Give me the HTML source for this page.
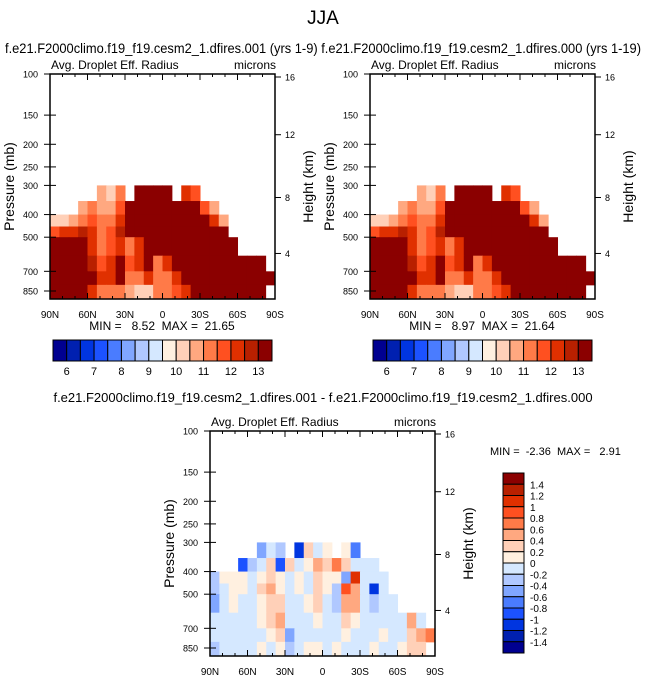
<!DOCTYPE html>
<html><head><meta charset="utf-8"><style>
body{margin:0;background:#fff;}
svg{display:block;font-family:"Liberation Sans",sans-serif;}
text{white-space:pre;}
</style></head><body>
<svg id="s" width="647" height="680" viewBox="0 0 647 680" xmlns="http://www.w3.org/2000/svg">
<text x="323" y="24" font-size="19" text-anchor="middle">JJA</text>
<text x="5" y="53" font-size="14" textLength="636" lengthAdjust="spacingAndGlyphs">f.e21.F2000climo.f19_f19.cesm2_1.dfires.001 (yrs 1-9) f.e21.F2000climo.f19_f19.cesm2_1.dfires.000 (yrs 1-19)</text>
<text x="323" y="402" font-size="13" text-anchor="middle">f.e21.F2000climo.f19_f19.cesm2_1.dfires.001 - f.e21.F2000climo.f19_f19.cesm2_1.dfires.000</text>
</svg>
<script>
const colors=["#000090","#0020b0","#0035e0","#1c52ff","#4a7cff","#80a6ff","#b0c8ff","#d5e8ff","#fff0e0","#ffd0b8","#ffa880","#ff7a48","#ff5020","#e03000","#b82000","#8b0000"];
const pEdges=[300,350,400,450,500,600,700,800,920];
const latLabels=["90N","60N","30N","0","30S","60S","90S"];
const pTicks=[100,150,200,250,300,400,500,700,850];
const hTicks=[16,12,8,4];
const hTickP=[103,182,338,587];
const absLevels=[6,6.5,7,7.5,8,8.5,9,9.5,10,10.5,11,11.5,12,12.5,13];
const absLabels=["6","7","8","9","10","11","12","13"];
const diffLabels=["1.4","1.2","1","0.8","0.6","0.4","0.2","0","-0.2","-0.4","-0.6","-0.8","-1","-1.2","-1.4"];
const N=null;
const fieldA=[
[N,N,N,N,N,10.5,10,11,N,14,14,14,14,N,12,11.5,N,N,N,N,N,N,N,N],
[N,N,N,10.5,11,10.5,10.5,11.5,14,14,14,14,14,14,14,13,11.5,10.5,N,N,N,N,N,N],
[10,10,10.5,11,11.5,11,11,12,14,14,14,14,14,14,14,14,13,12,10.5,N,N,N,N,N],
[11.5,12,12,12.5,12,11,11.5,12.5,13,14,14,14,14,14,14,14,14,14,13,N,N,N,N,N],
[14,14,14,13,12,11,11.5,12,11,12,14,14,14,14,14,14,14,14,14,14,N,N,N,N],
[14,14,14,13.5,12.5,11.5,12,13,11.5,12,13,11,12,13,14,14,14,14,14,14,14,14,14,N],
[14,14,14,14,13,12,12,13,11,11,12,11,11,12,13,14,14,14,14,14,14,14,14,14],
[14,14,14,13,12,11,11,11,10.5,10,10,11,11,11.5,12,13,14,14,14,14,14,14,14,N]];
const fieldB=[
[N,N,N,N,N,10.5,10,11,N,14,14,14,14,N,12,11.5,N,N,N,N,N,N,N,N],
[N,N,N,10.5,11,10.5,10.5,11.5,14,14,14,14,14,14,14,13,11.5,10.5,N,N,N,N,N,N],
[10,10,10.5,11,11.5,11,11,12,14,14,14,14,14,14,14,14,13,12,10.5,N,N,N,N,N],
[11.5,12,12,12.5,12,11,11.5,12.5,13,14,14,14,14,14,14,14,14,14,13,N,N,N,N,N],
[14,14,14,13,12,11,11.5,12,11,12,14,14,14,14,14,14,14,14,14,14,N,N,N,N],
[14,14,14,13.5,12.5,11.5,12,13,11.5,12,13,11,12,13,14,14,14,14,14,14,14,14,14,N],
[14,14,14,14,13,12,12,13,11,11,12,11,11,12,13,14,14,14,14,14,14,14,14,14],
[14,14,14,13,12,11,11,11,10.5,10,10,11,11,11.5,12,13,14,14,14,14,14,14,14,N]];
const fieldD=[
[N,N,N,N,N,-0.5,-0.1,-0.3,N,-1.2,0.3,-0.1,0.1,N,0.1,-0.8,N,N,N,N,N,N,N,N],
[N,N,N,-1,-0.3,-0.1,0.2,-1,0.2,-0.1,0.1,0.4,0.3,0.6,0.3,-0.1,-0.1,-0.1,N,N,N,N,N,N],
[-0.3,0.1,0.1,0.1,-0.1,0.1,0.3,0.1,-0.1,0.1,-0.1,0.2,0.1,0.1,-0.5,1.0,-0.1,-0.1,-0.1,N,N,N,N,N],
[-0.3,-0.1,0.1,0.1,-0.1,0.2,0.4,0.1,-0.2,0.1,-0.1,0.3,0.1,-0.3,0.8,0.5,-0.2,-1.1,-0.2,N,N,N,N,N],
[-0.5,-0.1,0.1,-0.1,-0.1,0.1,0.3,0.2,-0.1,-0.1,0.1,0.2,-0.1,-0.4,0.4,0.4,-0.2,-0.3,-0.1,-0.2,N,N,N,N],
[-0.2,-0.1,-0.1,-0.1,-0.1,0.1,0.2,0.4,-0.1,-0.2,-0.1,0.1,-0.1,-0.2,0.2,0.1,-0.1,-0.1,-0.1,-0.2,-0.1,0.5,-0.1,N],
[-0.2,-0.1,-0.1,-0.1,-0.1,-0.1,0.1,0.3,-0.5,-0.1,-0.1,-0.2,-0.1,-0.1,0.1,-0.1,-0.1,-0.1,0.1,-0.1,-0.1,0.3,0.5,0.6],
[-0.3,-0.2,-0.1,-0.1,-0.1,0.1,-0.1,0.1,-0.3,-0.1,0.1,0.1,-0.1,0.1,-0.1,-0.1,-0.1,0.1,-0.1,-0.1,0.1,0.3,0.2,N]];

const svg=document.getElementById('s');
const NS="http://www.w3.org/2000/svg";
function mk(tag,attrs,parent,text){const e=document.createElementNS(NS,tag);for(const k in attrs)e.setAttribute(k,attrs[k]);if(text!==undefined)e.textContent=text;(parent||svg).appendChild(e);return e;}
function absIdx(v){let i=0;while(i<absLevels.length&&v>=absLevels[i])i++;return i;}
function diffIdx(v){return Math.max(0,Math.min(15,Math.floor((v+1.4)/0.2+1e-9)+1));}

function panel(x0,y0,field,idxFn,name){
  const W=225,H=225,k=101.4;
  const X=lat=>x0+(90-lat)/180*W;
  const Y=p=>y0+k*Math.log(p/100);
  const g=mk('g',{},svg);
  
  
  const nc=field[0].length;
  field.forEach((row,r)=>row.forEach((v,c)=>{
    if(v===null)return;
    const la=90-c*180/nc, lb=90-(c+1)*180/nc;
    const rc=mk('rect',{x:X(la).toFixed(2),y:Y(pEdges[r]).toFixed(2),width:(X(lb)-X(la)+0.5).toFixed(2),height:(Y(Math.min(pEdges[r+1],920))-Y(pEdges[r])+0.5).toFixed(2),fill:colors[idxFn(v)]},g);
    
    
  }));
  const fr=mk('rect',{x:x0,y:y0,width:W,height:H,fill:'none',stroke:'#000','stroke-width':1.5},g);
  
  
  for(let lat=90;lat>=-90;lat-=10){
    const x=X(lat), major=(lat%30===0), L=major?6:3;
    mk('line',{x1:x,x2:x,y1:y0+H,y2:y0+H-L,stroke:'#000'},g);
    mk('line',{x1:x,x2:x,y1:y0,y2:y0+L,stroke:'#000'},g);
  }
  latLabels.forEach((t,i)=>{const tx=mk('text',{x:X(90-30*i),y:y0+H+19,'font-size':10,'text-anchor':'middle'},g,t);
    });
  pTicks.forEach(p=>{const y=Y(p);mk('line',{x1:x0-6,x2:x0+6,y1:y,y2:y,stroke:'#000'},g);
    const tx=mk('text',{x:x0-12,y:y+3.5,'font-size':9,'text-anchor':'end'},g,String(p));
    });
  hTicks.forEach((h,i)=>{const y=Y(hTickP[i]);mk('line',{x1:x0+W,x2:x0+W+6,y1:y,y2:y,stroke:'#000'},g);
    const tx=mk('text',{x:x0+W+10,y:y+3.5,'font-size':9},g,String(h));
    });
  const t1=mk('text',{x:x0+1,y:y0-5,'font-size':12},g,'Avg. Droplet Eff. Radius');
  
  const t2=mk('text',{x:x0+W+1,y:y0-5,'font-size':12,'text-anchor':'end'},g,'microns');
  
  const cy=y0+H/2;
  const t3=mk('text',{x:x0-36,y:cy,'font-size':14,'text-anchor':'middle',transform:`rotate(-90 ${x0-36} ${cy})`},g,'Pressure (mb)');
  
  const t4=mk('text',{x:x0+W+38,y:cy,'font-size':14,'text-anchor':'middle',transform:`rotate(-90 ${x0+W+38} ${cy})`},g,'Height (km)');
  
}
function hbar(x0,y0,name){
  const w=219/16;
  const g=mk('g',{},svg);
  
  
  colors.forEach((c,i)=>mk('rect',{x:x0+i*w,y:y0,width:w,height:21,fill:c,stroke:'#000','stroke-width':1},g));
  absLabels.forEach((t,i)=>mk('text',{x:x0+(1+2*i)*w,y:y0+35,'font-size':11,'text-anchor':'middle'},g,t));
}
panel(50,74,fieldA,absIdx,'panel-dfires-001');
panel(370,74,fieldB,absIdx,'panel-dfires-000');
panel(210,431,fieldD,diffIdx,'panel-difference');
hbar(53,340,'colorbar-left');
hbar(373,340,'colorbar-right');
const m1=mk('text',{x:162,y:330,'font-size':12,'text-anchor':'middle'},svg,'MIN =   8.52  MAX =  21.65');


const m2=mk('text',{x:482,y:330,'font-size':12,'text-anchor':'middle'},svg,'MIN =   8.97  MAX =  21.64');


const m3=mk('text',{x:490,y:455,'font-size':11},svg,'MIN =  -2.36  MAX =   2.91');


(function(){const g=mk('g',{},svg);
  
  
  const h=180/16;
  colors.slice().reverse().forEach((c,i)=>mk('rect',{x:503,y:473+i*h,width:21,height:h,fill:c,stroke:'#000','stroke-width':1},g));
  diffLabels.forEach((t,i)=>mk('text',{x:530,y:473+(i+1)*h+4,'font-size':10},g,t));
})();
</script>
</body></html>
